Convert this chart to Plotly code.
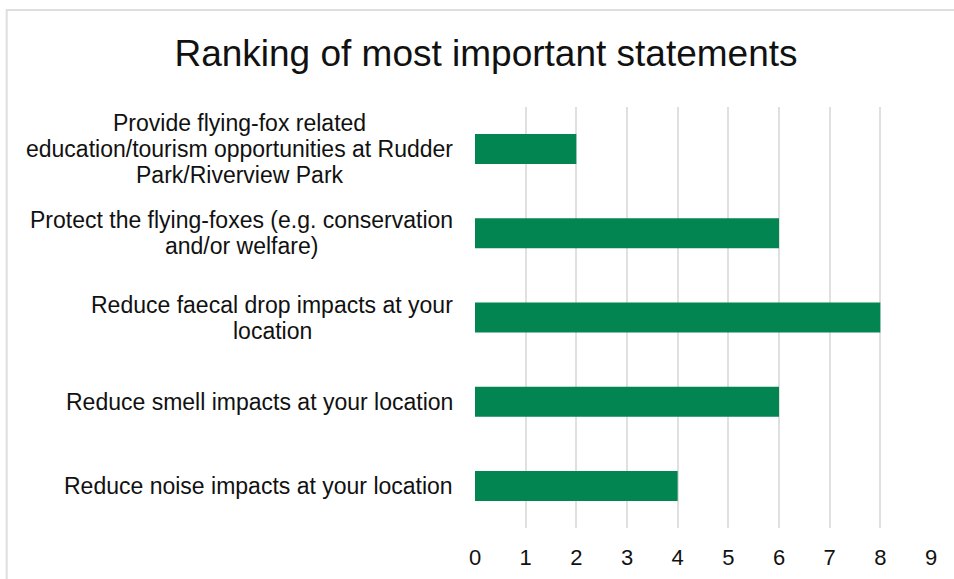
import plotly.graph_objects as go

# ---- data -------------------------------------------------------------
categories = [
    "Provide flying-fox related<br>education/tourism opportunities at Rudder<br>Park/Riverview Park",
    "Protect the flying-foxes (e.g. conservation<br>and/or welfare)",
    "Reduce faecal drop impacts at your<br>location",
    "Reduce smell impacts at your location",
    "Reduce noise impacts at your location",
]
counts = [2, 6, 8, 6, 4]
x_ticks = [0, 1, 2, 3, 4, 5, 6, 7, 8, 9]
title_text = "Ranking of most important statements"

# ---- styling ----------------------------------------------------------
W, H = 954, 579
M_L, M_R, M_T, M_B = 475, 23, 107, 51
PLOT_W = W - M_L - M_R
PLOT_H = H - M_T - M_B
FONT = "Liberation Sans, Arial, sans-serif"
TEXT = "#111111"
BAR = "#038552"
GRID = "#e0e0e0"
LABEL_SIZE = 23
LINE_STEP = 26       # px between wrapped label lines
LABEL_GAP = 22       # px between label block and the plot area

# Arial / Liberation Sans advance widths (per 1000 em) for block sizing
_ADV = {" ": 278, "(": 333, ")": 333, "-": 333, ".": 278, "/": 278,
        "a": 556, "b": 556, "c": 500, "d": 556, "e": 556, "f": 278, "g": 556,
        "h": 556, "i": 222, "j": 222, "k": 500, "l": 222, "m": 833, "n": 556,
        "o": 556, "p": 556, "q": 556, "r": 333, "s": 500, "t": 278, "u": 556,
        "v": 500, "w": 722, "x": 500, "y": 500, "z": 500, "P": 667, "R": 722}


def text_width(s, size):
    return sum(_ADV.get(ch, 556) for ch in s) * size / 1000.0


def px_to_paper_x(px):
    return (px - M_L) / PLOT_W


def px_to_paper_y(py):
    return (H - M_B - py) / PLOT_H


fig = go.Figure(
    go.Bar(
        x=counts,
        y=categories,
        orientation="h",
        marker=dict(color=BAR, line=dict(width=0)),
        hoverinfo="x+y",
    )
)

# Category labels: each block is right-aligned to the axis, with its
# wrapped lines centred inside the block.
annotations = []
for cat in categories:
    lines = cat.split("<br>")
    block_w = max(text_width(ln, LABEL_SIZE) for ln in lines)
    n = len(lines)
    for i, ln in enumerate(lines):
        annotations.append(dict(
            x=0, xref="paper", y=cat, yref="y",
            xanchor="center", yanchor="middle",
            xshift=-LABEL_GAP - block_w / 2,
            yshift=-(i - (n - 1) / 2) * LINE_STEP,
            text=ln, showarrow=False, align="center",
            font=dict(family=FONT, size=LABEL_SIZE, color=TEXT),
        ))

fig.update_layout(
    width=W, height=H,
    margin=dict(l=M_L, r=M_R, t=M_T, b=M_B, pad=0, autoexpand=False),
    paper_bgcolor="white", plot_bgcolor="white",
    showlegend=False,
    bargap=0.644,
    title=dict(
        text=title_text,
        x=px_to_paper_x(486), xref="paper", xanchor="center",
        y=1 - 53 / H, yref="container", yanchor="middle",
        automargin=False,
        font=dict(family=FONT, size=37, color=TEXT),
    ),
    annotations=annotations,
    shapes=[dict(
        type="rect", xref="paper", yref="paper",
        x0=px_to_paper_x(6.7), x1=px_to_paper_x(975),
        y0=px_to_paper_y(600), y1=px_to_paper_y(10),
        line=dict(color="#dedede", width=2), fillcolor="rgba(0,0,0,0)",
        layer="below",
    )],
)

fig.update_xaxes(
    range=[0, 9], automargin=False,
    tickmode="array", tickvals=x_ticks, ticktext=[str(t) for t in x_ticks],
    showgrid=True, gridcolor=GRID, gridwidth=2,
    zeroline=False, showline=False,
    ticks="outside", ticklen=10, tickcolor="rgba(0,0,0,0)",
    tickfont=dict(family=FONT, size=22, color=TEXT),
    fixedrange=True,
)
fig.update_yaxes(
    categoryorder="array", categoryarray=categories,
    autorange="reversed", automargin=False,
    showticklabels=False, showgrid=False, zeroline=False, showline=False,
    ticks="", fixedrange=True,
)

fig.write_html("out.html", config={"displayModeBar": False})
